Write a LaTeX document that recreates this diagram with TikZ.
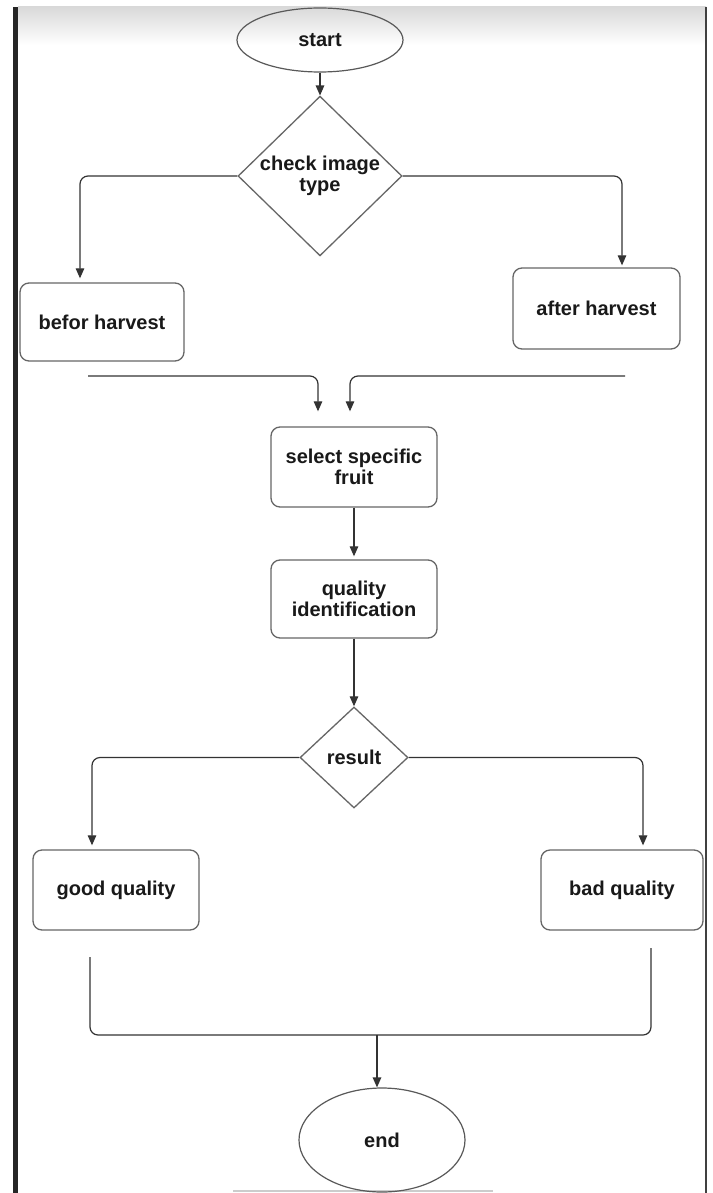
\documentclass[tikz,border=0pt]{standalone}
\usepackage{fontspec}
\setmainfont{Liberation Sans}
\usetikzlibrary{shapes.geometric,arrows.meta,calc}
\begin{document}
\begin{tikzpicture}[x=1pt,y=-1pt,
  txt/.style={font=\fontsize{20}{21}\selectfont\bfseries, text=black!90},
  box/.style={txt, draw=black!60, line width=1.3pt, rounded corners=9pt, align=center, inner sep=0pt},
  dec/.style={txt, diamond, draw=black!60, line width=1.3pt, align=center, inner sep=0pt},
  oval/.style={txt, ellipse, draw=black!65, line width=1.2pt, inner sep=0pt},
  conn/.style={draw=black!80, line width=1.2pt, rounded corners=8pt},
  arr/.style={conn, -{Triangle[length=10pt,width=8.5pt]}},
]
\useasboundingbox (0,0) rectangle (712,1193);
\fill[white] (0,0) rectangle (712,1193);
\shade[top color=black!15, bottom color=white] (18,7) rectangle (706,45);
\fill[black!85] (13,7) rectangle (18,1193);
\draw[black!75, line width=1.5pt] (706,7) -- (706,1193);
\draw[black!20, line width=2pt] (233,1191) -- (493,1191);

\node[oval, minimum width=166pt, minimum height=64pt] (st) at (320,40) {start};
\node[dec, minimum width=164pt, minimum height=156pt] (chk) at (320,176) {check image\\type};
\node[box, minimum width=164pt, minimum height=78pt] (bh) at (102,322) {befor harvest};
\node[box, minimum width=167pt, minimum height=81pt] (ah) at (596.5,308.5) {after harvest};
\node[box, minimum width=166pt, minimum height=80pt] (sel) at (354,467) {select specific\\fruit};
\node[box, minimum width=166pt, minimum height=78pt] (qi) at (354,599) {quality\\identification};
\node[dec, minimum width=108pt, minimum height=101pt] (res) at (354,757.5) {result};
\node[box, minimum width=166pt, minimum height=80pt] (good) at (116,890) {good quality};
\node[box, minimum width=162pt, minimum height=80pt] (bad) at (622,890) {bad quality};
\node[oval, minimum width=166pt, minimum height=104pt] (en) at (382,1140) {end};

\draw[arr] (st) -- (chk);
\draw[arr, shorten >=4pt] (chk.west) -| ([xshift=-22pt]bh.north);
\draw[arr, shorten >=2pt] (chk.east) -| ([xshift=25.5pt]ah.north);
\coordinate (ml) at (88,376);
\coordinate (mr) at (625,376);
\draw[arr, shorten >=15pt] (ml) -| ([xshift=-36pt]sel.north);
\draw[arr, shorten >=15pt] (mr) -| ([xshift=-4pt]sel.north);
\draw[arr, shorten >=3pt] (sel) -- (qi);
\draw[arr] (qi) -- (res);
\draw[arr, shorten >=4pt] (res.west) -| ([xshift=-24pt]good.north);
\draw[arr, shorten >=4pt] (res.east) -| ([xshift=21pt]bad.north);
\coordinate (g1) at (90,957);
\coordinate (b1) at (651,948);
\coordinate (jn) at (377,1035);
\draw[conn] (g1) |- (jn) -| (b1);
\draw[arr] (jn) -- (jn |- en.north);
\end{tikzpicture}
\end{document}
